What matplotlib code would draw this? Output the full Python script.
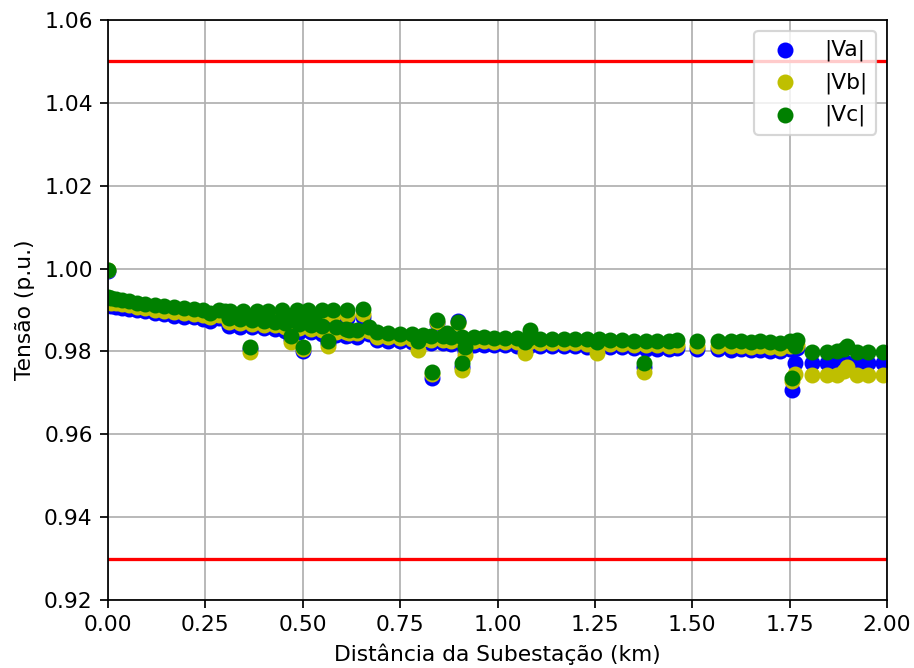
import numpy as np
from matplotlib import pyplot as plt

# distance from substation (km) and phase voltages (p.u.)
dist = [0.000, 0.000, 0.008, 0.020, 0.035, 0.055, 0.075, 0.095, 0.120, 0.145,
        0.170, 0.195, 0.220, 0.245, 0.262, 0.285, 0.300,
        0.313, 0.347, 0.383, 0.411, 0.447, 0.485, 0.513, 0.549, 0.578, 0.614, 0.655,
        0.310, 0.340, 0.370, 0.400, 0.430, 0.455, 0.490, 0.520, 0.550, 0.585, 0.610, 0.640, 0.670,
        0.460, 0.475, 0.500, 0.530,
        0.365, 0.470, 0.500, 0.565, 0.620,
        0.690, 0.720, 0.750, 0.780, 0.810, 0.830, 0.860, 0.880, 0.910, 0.940,
        0.965, 0.990, 1.020, 1.050, 1.080, 1.110, 1.140, 1.170, 1.200, 1.230,
        1.260, 1.290, 1.320,
        0.796, 0.832, 0.845, 0.898, 0.908, 0.916, 1.070, 1.083, 1.255, 0.870,
        1.350, 1.375, 1.380, 1.410, 1.440, 1.460, 1.512, 1.565, 1.600, 1.625,
        1.650, 1.675, 1.700, 1.725, 1.750, 1.770, 1.755, 1.765,
        1.807, 1.846, 1.872, 1.897, 1.890, 1.923, 1.951, 1.990]

va = [0.9995, 0.9912, 0.9910, 0.9908, 0.9906, 0.9903, 0.9900, 0.9897, 0.9893, 0.9890,
      0.9886, 0.9884, 0.9882, 0.9879, 0.9874, 0.9880, 0.9878,
      0.9880, 0.9879, 0.9879, 0.9878, 0.9878, 0.9878, 0.9878, 0.9879, 0.9879, 0.9880, 0.9882,
      0.9862, 0.9860, 0.9858, 0.9856, 0.9855, 0.9850, 0.9848, 0.9846, 0.9843, 0.9840, 0.9838, 0.9836, 0.9842,
      0.9865, 0.9858, 0.9862, 0.9860,
      0.9805, 0.9830, 0.9802, 0.9820, 0.9840,
      0.9828, 0.9826, 0.9825, 0.9823, 0.9822, 0.9820, 0.9820, 0.9818, 0.9817, 0.9816,
      0.9816, 0.9815, 0.9815, 0.9814, 0.9814, 0.9813, 0.9813, 0.9812, 0.9812, 0.9811,
      0.9811, 0.9810, 0.9810,
      0.9815, 0.9737, 0.9868, 0.9873, 0.9762, 0.9800, 0.9810, 0.9835, 0.9810, 0.9830,
      0.9808, 0.9762, 0.9807, 0.9807, 0.9806, 0.9808, 0.9806, 0.9805, 0.9804, 0.9805,
      0.9803, 0.9804, 0.9802, 0.9801, 0.9805, 0.9808, 0.9707, 0.9772,
      0.9772, 0.9772, 0.9772, 0.9772, 0.9770, 0.9772, 0.9771, 0.9771]

vb = [0.9996, 0.9920, 0.9918, 0.9916, 0.9914, 0.9911, 0.9908, 0.9905, 0.9901, 0.9898,
      0.9894, 0.9892, 0.9890, 0.9887, 0.9882, 0.9888, 0.9886,
      0.9888, 0.9887, 0.9887, 0.9886, 0.9886, 0.9886, 0.9886, 0.9887, 0.9887, 0.9888, 0.9890,
      0.9870, 0.9868, 0.9866, 0.9864, 0.9863, 0.9858, 0.9856, 0.9854, 0.9851, 0.9848, 0.9846, 0.9844, 0.9850,
      0.9872, 0.9866, 0.9870, 0.9868,
      0.9798, 0.9822, 0.9806, 0.9812, 0.9845,
      0.9836, 0.9834, 0.9833, 0.9831, 0.9830, 0.9828, 0.9828, 0.9826, 0.9825, 0.9824,
      0.9824, 0.9823, 0.9823, 0.9822, 0.9822, 0.9821, 0.9821, 0.9820, 0.9820, 0.9819,
      0.9819, 0.9818, 0.9818,
      0.9803, 0.9745, 0.9870, 0.9868, 0.9755, 0.9792, 0.9797, 0.9842, 0.9797, 0.9836,
      0.9816, 0.9750, 0.9815, 0.9815, 0.9814, 0.9816, 0.9814, 0.9813, 0.9812, 0.9813,
      0.9811, 0.9812, 0.9810, 0.9809, 0.9813, 0.9816, 0.9728, 0.9745,
      0.9743, 0.9743, 0.9743, 0.9762, 0.9752, 0.9743, 0.9743, 0.9742]

vc = [0.9997, 0.9932, 0.9929, 0.9926, 0.9924, 0.9921, 0.9918, 0.9915, 0.9912, 0.9910,
      0.9907, 0.9905, 0.9903, 0.9900, 0.9893, 0.9900, 0.9898,
      0.9898, 0.9898, 0.9898, 0.9898, 0.9899, 0.9899, 0.9899, 0.9900, 0.9900, 0.9900, 0.9902,
      0.9880, 0.9878, 0.9876, 0.9874, 0.9872, 0.9868, 0.9866, 0.9864, 0.9861, 0.9858, 0.9855, 0.9852, 0.9860,
      0.9884, 0.9876, 0.9880, 0.9878,
      0.9811, 0.9838, 0.9810, 0.9826, 0.9852,
      0.9846, 0.9844, 0.9843, 0.9841, 0.9840, 0.9838, 0.9838, 0.9836, 0.9835, 0.9834,
      0.9834, 0.9833, 0.9833, 0.9832, 0.9832, 0.9831, 0.9831, 0.9830, 0.9830, 0.9829,
      0.9829, 0.9828, 0.9828,
      0.9825, 0.9750, 0.9875, 0.9871, 0.9772, 0.9810, 0.9822, 0.9852, 0.9822, 0.9845,
      0.9826, 0.9772, 0.9825, 0.9825, 0.9824, 0.9827, 0.9825, 0.9825, 0.9824, 0.9825,
      0.9823, 0.9824, 0.9822, 0.9821, 0.9825, 0.9828, 0.9735, 0.9812,
      0.9799, 0.9799, 0.9800, 0.9812, 0.9806, 0.9799, 0.9799, 0.9798]

v_max = 1.05
v_min = 0.93

def main():
    dpi = 157
    fig = plt.figure(figsize=(914/dpi, 668/dpi), dpi=dpi)
    ax = fig.add_axes([108/914, 1-600/668, (887-108)/914, (600-20)/668])
    ax.scatter(dist, va, color='b', s=40, label='|Va|')
    ax.scatter(dist, vb, color='y', s=40, label='|Vb|')
    ax.scatter(dist, vc, color='g', s=40, label='|Vc|')
    ax.axhline(v_max, color='r')
    ax.axhline(v_min, color='r')
    ax.set_xlim(0, 2)
    ax.set_ylim(0.92, 1.06)
    ax.set_xticks(np.arange(0, 2.01, 0.25))
    ax.set_yticks(np.arange(0.92, 1.061, 0.02))
    ax.grid(True)
    ax.set_axisbelow(True)
    ax.set_xlabel('Distância da Subestação (km)')
    ax.set_ylabel('Tensão (p.u.)')
    ax.legend(loc='upper right')
    fig.savefig('out.png', dpi=dpi)
    plt.close()

if __name__ == '__main__':
    main()
